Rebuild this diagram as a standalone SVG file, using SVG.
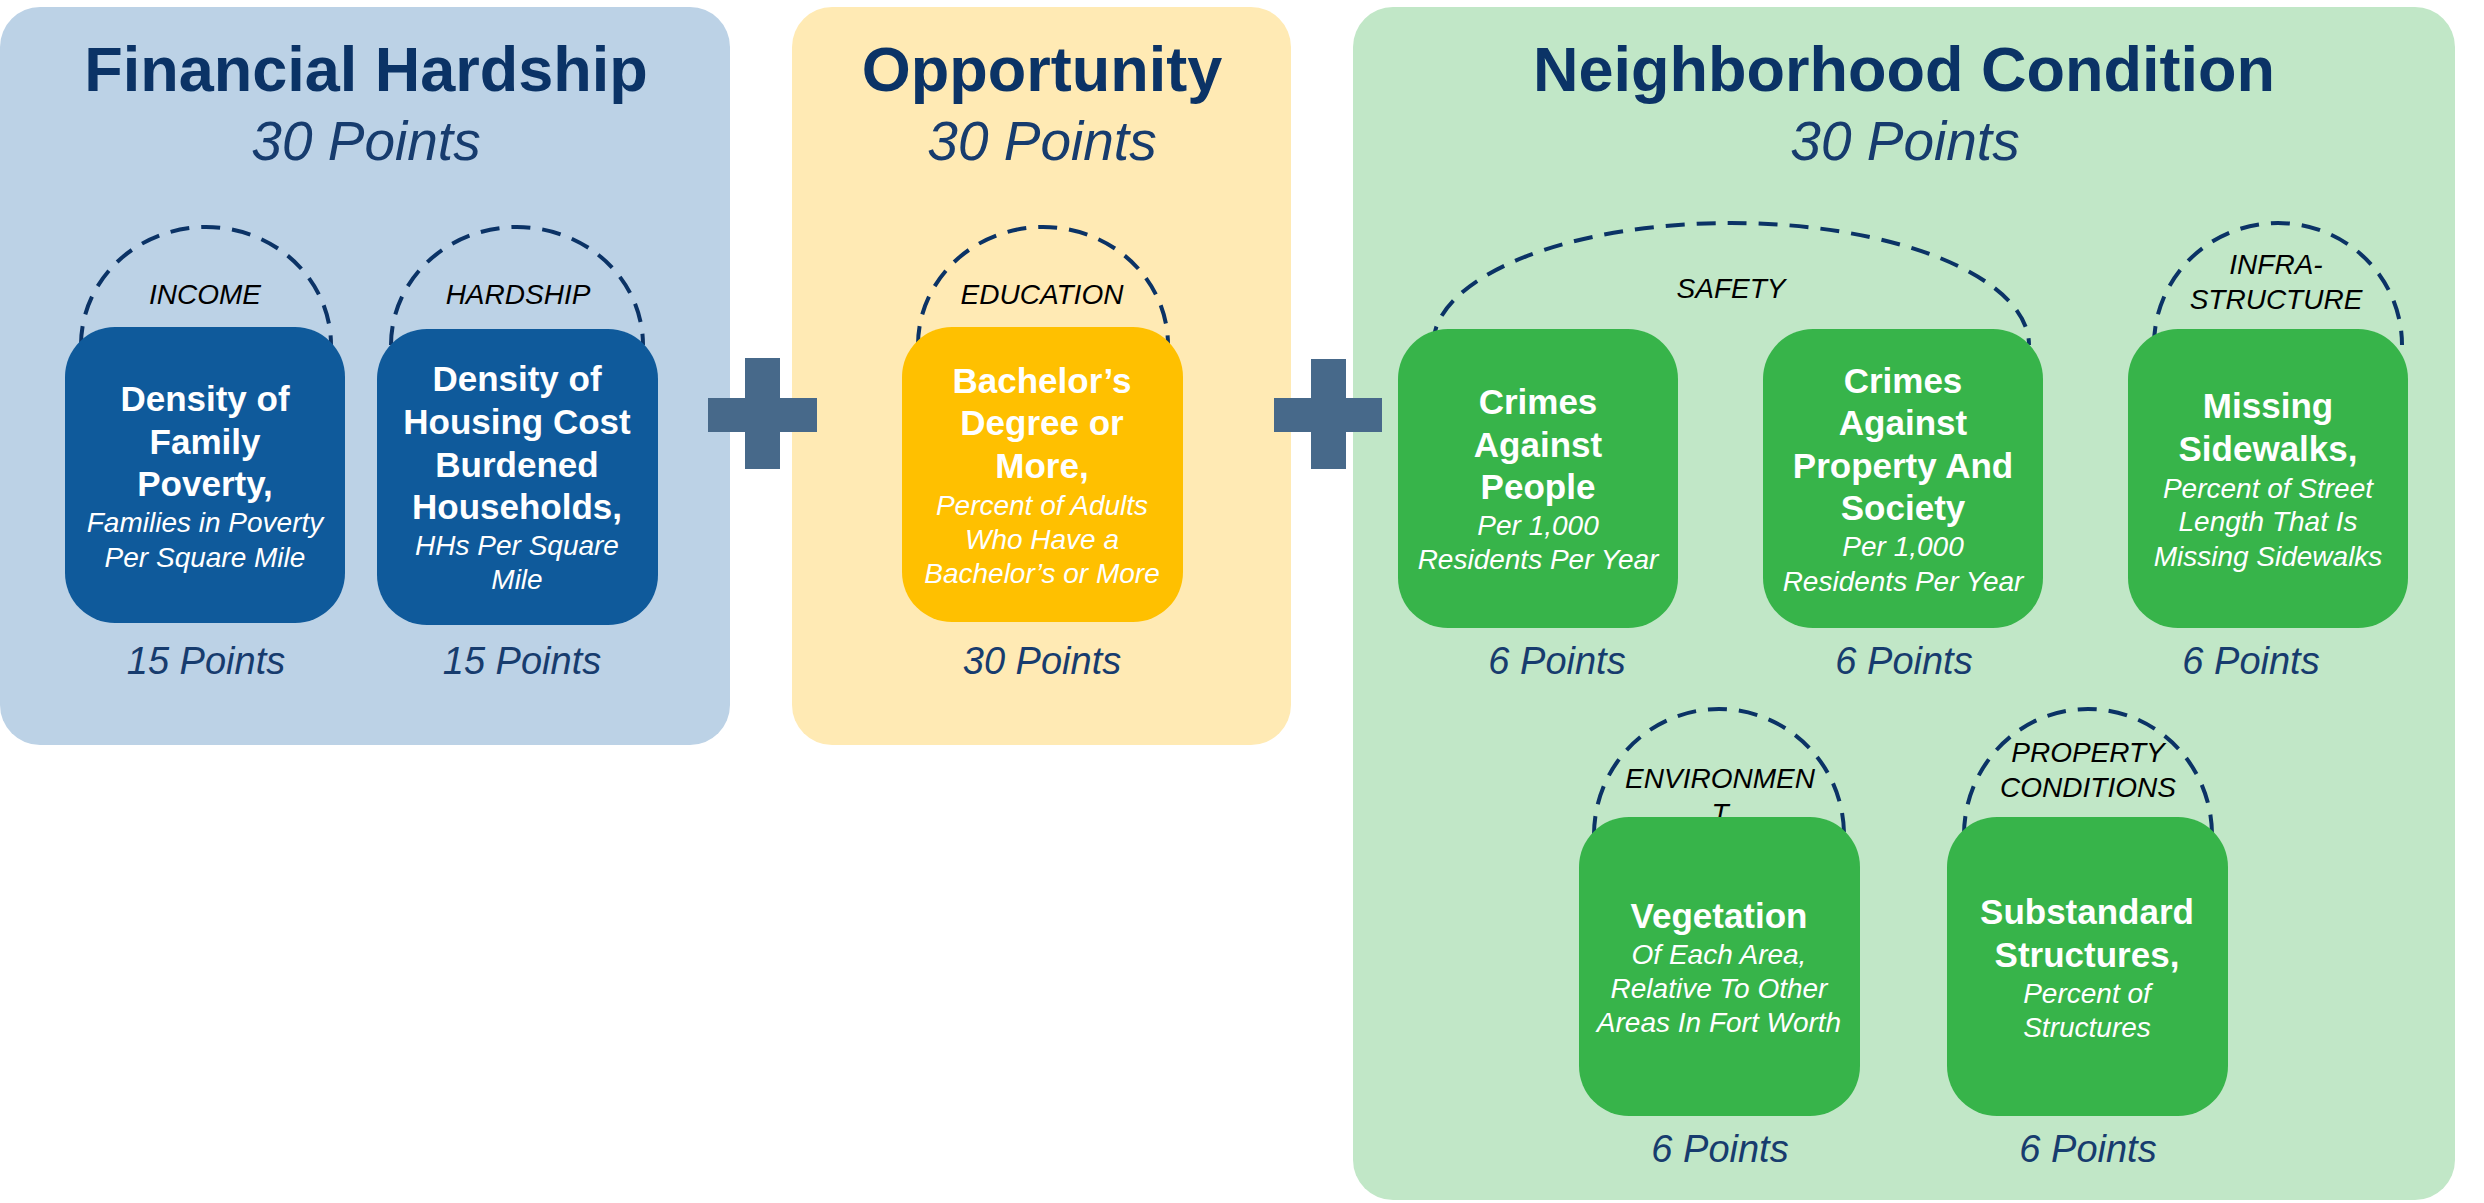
<svg xmlns="http://www.w3.org/2000/svg" width="2484" height="1203" viewBox="0 0 2484 1203">
<style>
.title{font-family:"Liberation Sans",Arial,sans-serif;font-weight:bold;font-size:63px;fill:#0B3366;text-anchor:middle}
.sub{font-family:"Liberation Sans",Arial,sans-serif;font-style:italic;font-size:55px;fill:#173C6E;text-anchor:middle}
.pts{font-family:"Liberation Sans",Arial,sans-serif;font-style:italic;font-size:38px;fill:#173C6E;text-anchor:middle}
.lbl{font-family:"Liberation Sans",Arial,sans-serif;font-style:italic;font-size:28px;fill:#000;text-anchor:middle}
.b{font-family:"Liberation Sans",Arial,sans-serif;font-weight:bold;font-size:35px;fill:#fff;text-anchor:middle}
.i{font-family:"Liberation Sans",Arial,sans-serif;font-style:italic;font-size:28px;fill:#fff;text-anchor:middle}
.arc{fill:none;stroke:#0B3366;stroke-width:4;stroke-dasharray:19 12}
.plus{fill:#47698A}
.nb{fill:#0F5A9B}
.ny{fill:#FFC000}
.ng{fill:#37B44A}
</style>
<g id="panel-financial">
<rect x="0" y="7" width="730" height="738" rx="40" fill="#BCD2E6"/>
<text class="title" x="366" y="91">Financial Hardship</text>
<text class="sub" x="366" y="160">30 Points</text>
</g>
<g id="panel-opportunity">
<rect x="792" y="7" width="499" height="738" rx="40" fill="#FFEAB4"/>
<text class="title" x="1042" y="91">Opportunity</text>
<text class="sub" x="1042" y="160">30 Points</text>
</g>
<g id="panel-neighborhood">
<rect x="1353" y="7" width="1102" height="1193" rx="40" fill="#C1E7C7"/>
<text class="title" x="1904" y="91">Neighborhood Condition</text>
<text class="sub" x="1905" y="160">30 Points</text>
</g>
<g id="plus-1" class="plus">
<rect x="708" y="398" width="109" height="34"/>
<rect x="745" y="358" width="35" height="111"/>
</g>
<g id="plus-2" class="plus">
<rect x="1274" y="398" width="108" height="34"/>
<rect x="1311" y="359" width="35" height="110"/>
</g>
<g id="connectors">
<path class="arc" d="M81,345 A125,118 0 0 1 331,345"/>
<path class="arc" d="M391,345 A126,118 0 0 1 643,345"/>
<path class="arc" d="M918,345 A125,118 0 0 1 1168,345"/>
<path class="arc" d="M1433,345 A298,122 0 0 1 2029,345"/>
<path class="arc" d="M2154,345 A124,122 0 0 1 2402,345"/>
<path class="arc" d="M1594,835 A125,126 0 0 1 1844,835"/>
<path class="arc" d="M1964,835 A124,126 0 0 1 2212,835"/>
</g>
<g id="labels">
<text class="lbl" x="205" y="304">INCOME</text>
<text class="lbl" x="518" y="304">HARDSHIP</text>
<text class="lbl" x="1042" y="304">EDUCATION</text>
<text class="lbl" x="1731" y="298">SAFETY</text>
<text class="lbl" x="2276" y="274">INFRA-</text>
<text class="lbl" x="2276" y="309">STRUCTURE</text>
<text class="lbl" x="1720" y="788">ENVIRONMEN</text>
<text class="lbl" x="1720" y="823">T</text>
<text class="lbl" x="2088" y="762">PROPERTY</text>
<text class="lbl" x="2088" y="797">CONDITIONS</text>
</g>
<g id="node-family-poverty">
<rect class="nb" x="65" y="327" width="280" height="296" rx="50"/>
<text class="b" x="205" y="411">Density of</text>
<text class="b" x="205" y="454">Family</text>
<text class="b" x="205" y="496">Poverty,</text>
<text class="i" x="205" y="532">Families in Poverty</text>
<text class="i" x="205" y="567">Per Square Mile</text>
<text class="pts" x="206" y="674">15 Points</text>
</g>
<g id="node-housing-cost">
<rect class="nb" x="377" y="329" width="281" height="296" rx="50"/>
<text class="b" x="517" y="391">Density of</text>
<text class="b" x="517" y="434">Housing Cost</text>
<text class="b" x="517" y="477">Burdened</text>
<text class="b" x="517" y="519">Households,</text>
<text class="i" x="517" y="555">HHs Per Square</text>
<text class="i" x="517" y="589">Mile</text>
<text class="pts" x="522" y="674">15 Points</text>
</g>
<g id="node-bachelors">
<rect class="ny" x="902" y="327" width="281" height="295" rx="50"/>
<text class="b" x="1042" y="393">Bachelor’s</text>
<text class="b" x="1042" y="435">Degree or</text>
<text class="b" x="1042" y="478">More,</text>
<text class="i" x="1042" y="515">Percent of Adults</text>
<text class="i" x="1042" y="549">Who Have a</text>
<text class="i" x="1042" y="583">Bachelor’s or More</text>
<text class="pts" x="1042" y="674">30 Points</text>
</g>
<g id="node-crimes-people">
<rect class="ng" x="1398" y="329" width="280" height="299" rx="50"/>
<text class="b" x="1538" y="414">Crimes</text>
<text class="b" x="1538" y="457">Against</text>
<text class="b" x="1538" y="499">People</text>
<text class="i" x="1538" y="535">Per 1,000</text>
<text class="i" x="1538" y="569">Residents Per Year</text>
<text class="pts" x="1557" y="674">6 Points</text>
</g>
<g id="node-crimes-property">
<rect class="ng" x="1763" y="329" width="280" height="299" rx="50"/>
<text class="b" x="1903" y="393">Crimes</text>
<text class="b" x="1903" y="435">Against</text>
<text class="b" x="1903" y="478">Property And</text>
<text class="b" x="1903" y="520">Society</text>
<text class="i" x="1903" y="556">Per 1,000</text>
<text class="i" x="1903" y="591">Residents Per Year</text>
<text class="pts" x="1904" y="674">6 Points</text>
</g>
<g id="node-sidewalks">
<rect class="ng" x="2128" y="329" width="280" height="299" rx="50"/>
<text class="b" x="2268" y="418">Missing</text>
<text class="b" x="2268" y="461">Sidewalks,</text>
<text class="i" x="2268" y="498">Percent of Street</text>
<text class="i" x="2268" y="531">Length That Is</text>
<text class="i" x="2268" y="566">Missing Sidewalks</text>
<text class="pts" x="2251" y="674">6 Points</text>
</g>
<g id="node-vegetation">
<rect class="ng" x="1579" y="817" width="281" height="299" rx="50"/>
<text class="b" x="1719" y="928">Vegetation</text>
<text class="i" x="1719" y="964">Of Each Area,</text>
<text class="i" x="1719" y="998">Relative To Other</text>
<text class="i" x="1719" y="1032">Areas In Fort Worth</text>
<text class="pts" x="1720" y="1162">6 Points</text>
</g>
<g id="node-substandard">
<rect class="ng" x="1947" y="817" width="281" height="299" rx="50"/>
<text class="b" x="2087" y="924">Substandard</text>
<text class="b" x="2087" y="967">Structures,</text>
<text class="i" x="2087" y="1003">Percent of</text>
<text class="i" x="2087" y="1037">Structures</text>
<text class="pts" x="2088" y="1162">6 Points</text>
</g>
</svg>
